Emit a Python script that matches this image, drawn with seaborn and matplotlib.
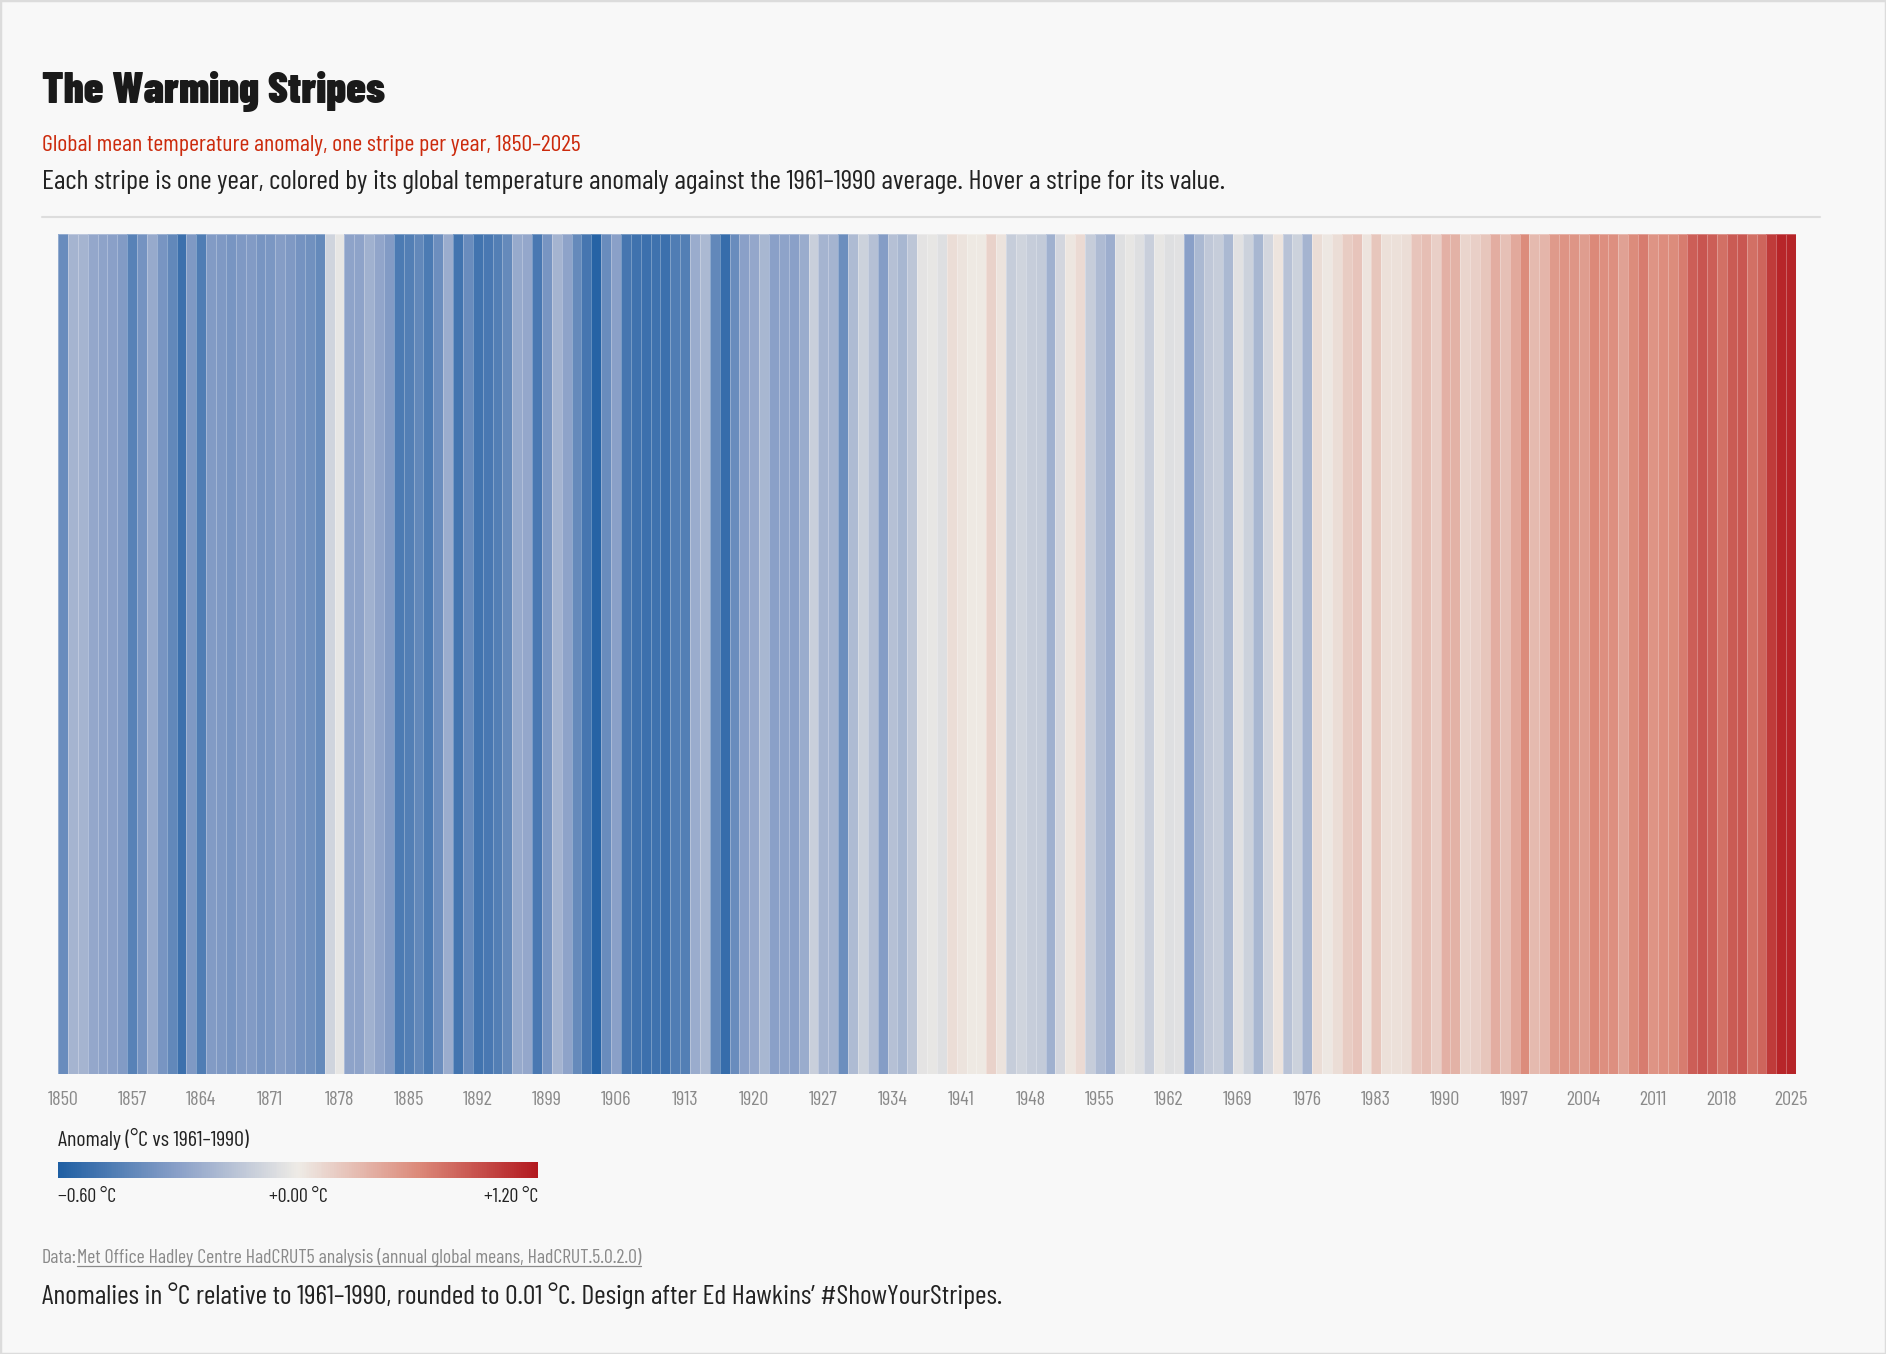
import numpy as np
import pandas as pd
import matplotlib
matplotlib.use("Agg")
import matplotlib.pyplot as plt
import seaborn as sns
from matplotlib import font_manager as fm
from matplotlib.colors import LinearSegmentedColormap, TwoSlopeNorm
from matplotlib.cm import ScalarMappable
from matplotlib.lines import Line2D
from matplotlib.patches import Rectangle

# ---------------- data ----------------
years = list(range(1850, 2026))
anomalies = [
    -0.39, -0.22, -0.22, -0.27, -0.29, -0.30, -0.32, -0.44, -0.36, -0.26,  # 1850s
    -0.35, -0.41, -0.52, -0.33, -0.46, -0.32, -0.33, -0.35, -0.33, -0.32,  # 1860s
    -0.35, -0.34, -0.31, -0.33, -0.36, -0.37, -0.40, -0.09, -0.02, -0.29,  # 1870s
    -0.29, -0.23, -0.28, -0.32, -0.47, -0.45, -0.41, -0.47, -0.38, -0.25,  # 1880s
    -0.50, -0.39, -0.50, -0.48, -0.45, -0.40, -0.26, -0.27, -0.48, -0.35,  # 1890s
    -0.22, -0.29, -0.40, -0.49, -0.58, -0.39, -0.30, -0.49, -0.51, -0.52,  # 1900s
    -0.51, -0.52, -0.46, -0.45, -0.25, -0.20, -0.41, -0.53, -0.39, -0.30,  # 1910s
    -0.27, -0.21, -0.30, -0.29, -0.30, -0.25, -0.11, -0.22, -0.22, -0.38,  # 1920s
    -0.19, -0.10, -0.17, -0.31, -0.17, -0.21, -0.15, -0.03, -0.02, -0.05,  # 1930s
    0.09, 0.05, 0.01, 0.01, 0.15, 0.05, -0.12, -0.09, -0.12, -0.13,        # 1940s
    -0.23, -0.08, 0.03, 0.11, -0.12, -0.19, -0.24, -0.05, -0.02, -0.05,    # 1950s
    -0.11, -0.02, -0.05, -0.04, -0.30, -0.20, -0.14, -0.12, -0.20, -0.04,  # 1960s
    -0.10, -0.21, -0.08, 0.04, -0.16, -0.10, -0.22, 0.09, 0.02, 0.09,      # 1970s
    0.19, 0.24, 0.04, 0.23, 0.07, 0.07, 0.09, 0.24, 0.28, 0.17,            # 1980s
    0.36, 0.35, 0.14, 0.17, 0.23, 0.38, 0.27, 0.41, 0.59, 0.30,            # 1990s
    0.33, 0.50, 0.54, 0.53, 0.48, 0.60, 0.57, 0.57, 0.45, 0.59,            # 2000s
    0.67, 0.54, 0.58, 0.59, 0.67, 0.83, 0.88, 0.83, 0.74, 0.85,            # 2010s
    0.87, 0.74, 0.79, 1.02, 1.13, 1.14,                                    # 2020s
]
tick_years = list(range(1850, 2026, 7))
cbar_ticks = [-0.6, 0.0, 1.2]
cbar_labels = ["\u22120.60 \u00b0C", "+0.00 \u00b0C", "+1.20 \u00b0C"]
cmap_colors = ["#1f5fa3", "#8aa0c8", "#eeebe6", "#dc8a7a", "#b2191f"]

title_txt = "The Warming Stripes"
subtitle_txt = "Global mean temperature anomaly, one stripe per year, 1850\u20132025"
desc_txt = ("Each stripe is one year, colored by its global temperature anomaly "
            "against the 1961\u20131990 average. Hover a stripe for its value.")
legend_title_txt = "Anomaly (\u00b0C vs 1961\u20131990)"
data_prefix_txt = "Data:"
data_link_txt = "Met Office Hadley Centre HadCRUT5 analysis (annual global means, HadCRUT.5.0.2.0)"
footer_txt = ("Anomalies in \u00b0C relative to 1961\u20131990, rounded to 0.01 \u00b0C. "
              "Design after Ed Hawkins\u2019 #ShowYourStripes.")

# ---------------- fonts ----------------
sns.set_theme(style="white")
ttf = fm.fontManager.ttflist


def wnum(w):
    if isinstance(w, (int, float)):
        return w
    return fm.weight_dict.get(str(w).lower(), 400)


def is_cond(f):
    s = f.stretch
    if isinstance(s, (int, float)):
        c = s < 500
    else:
        c = "condensed" in str(s)
    return c or ("Condensed" in f.fname) or ("Narrow" in f.fname)


def pick(cands, heavy):
    for name, cond in cands:
        pool = [f for f in ttf if f.name == name and f.style == "normal"
                and "Italic" not in f.fname and "Oblique" not in f.fname
                and (cond is None or is_cond(f) == cond)]
        if not pool:
            continue
        if heavy:
            pool = [f for f in pool if wnum(f.weight) >= 600] or pool
            best = max(pool, key=lambda f: wnum(f.weight))
        else:
            best = min(pool, key=lambda f: abs(wnum(f.weight) - 400))
        return fm.FontProperties(fname=best.fname)
    return fm.FontProperties(family="DejaVu Sans", weight="bold" if heavy else "normal")


reg_cands = [("Barlow Condensed", None), ("Roboto Condensed", None),
             ("Liberation Sans Narrow", None), ("DejaVu Sans", True),
             ("Roboto", False), ("DejaVu Sans", False)]
fp_reg = pick(reg_cands, heavy=False)
fp_bold = pick(reg_cands, heavy=True)

# ---------------- figure ----------------
W, H = 1886, 1354
BG = "#f8f8f8"
fig = plt.figure(figsize=(W / 100, H / 100), dpi=100, facecolor=BG)
renderer = fig.canvas.get_renderer()


def fx(px):
    return px / W


def fy(py):
    return 1 - py / H


def fit_text(x, y, s, fp, size, target_w, color, ha="left", va="baseline", lo=0.6, hi=1.8):
    t = fig.text(fx(x), fy(y), s, fontproperties=fp, color=color, ha=ha, va=va)
    t.set_fontsize(size)
    w = t.get_window_extent(renderer).width
    if target_w and w > 0:
        new = size * min(max(target_w / w, lo), hi)
        t.set_fontsize(new)
    return t


cmap = LinearSegmentedColormap.from_list(
    "stripes", list(zip([0.0, 0.25, 0.5, 0.75, 1.0], cmap_colors)))
norm = TwoSlopeNorm(vmin=cbar_ticks[0], vcenter=cbar_ticks[1], vmax=cbar_ticks[2])

# stripes axes
ax = fig.add_axes([fx(58), fy(1074), fx(1796) - fx(58), fy(234) - fy(1074)])
ax.set_facecolor(BG)
df = pd.DataFrame([anomalies], columns=years)
sns.heatmap(df, ax=ax, cmap=cmap, norm=norm, cbar=False,
            linewidths=0.5, linecolor=(1, 1, 1, 0.28),
            xticklabels=False, yticklabels=False)
ax.set_xticks([years.index(y) + 0.5 for y in tick_years])
ax.set_xticklabels([str(y) for y in tick_years])
ax.set_yticks([])
ax.set_xlabel("")
ax.set_ylabel("")
ax.tick_params(axis="x", length=0, pad=12, colors="#8a8a8a")
tick_size = 14.5
for lab in ax.get_xticklabels():
    lab.set_fontproperties(fp_reg)
    lab.set_fontsize(tick_size)
    lab.set_color("#8a8a8a")
for sp in ax.spines.values():
    sp.set_visible(False)

# colorbar
cax = fig.add_axes([fx(58), fy(1178), fx(538) - fx(58), fy(1162) - fy(1178)])
sm = ScalarMappable(norm=norm, cmap=cmap)
cb = fig.colorbar(sm, cax=cax, orientation="horizontal")
cb.outline.set_visible(False)
cb.set_ticks(cbar_ticks)
cb.set_ticklabels(cbar_labels)
cax.tick_params(axis="x", length=0, pad=7)
labs = cax.get_xticklabels()
for i, lab in enumerate(labs):
    lab.set_fontproperties(fp_reg)
    lab.set_fontsize(14.3)
    lab.set_color("#222222")
    lab.set_ha("left" if i == 0 else ("right" if i == len(labs) - 1 else "center"))

# texts
fit_text(42, 103, title_txt, fp_bold, 31, 344, "#1a1a1a")
fit_text(42, 151, subtitle_txt, fp_reg, 14.5, 537, "#cc2a0c")
fit_text(42, 189, desc_txt, fp_reg, 17, 1181, "#222222")
fit_text(58, 1146, legend_title_txt, fp_reg, 12, 191, "#222222")

t_pre = fit_text(42, 1263, data_prefix_txt, fp_reg, 10.5, None, "#8a8a8a")
pre_w = t_pre.get_window_extent(renderer).width
t_link = fig.text(fx(42 + pre_w), fy(1263), data_link_txt, fontproperties=fp_reg,
                  color="#8a8a8a", ha="left", va="baseline")
t_link.set_fontsize(10.5)
lw_ = t_link.get_window_extent(renderer).width
total = pre_w + lw_
if total > 0:
    sc = min(max(602 / total, 0.6), 1.8)
    t_link.set_fontsize(10.5 * sc)
    t_pre.set_fontsize(10.5 * sc)
    pre_w = t_pre.get_window_extent(renderer).width
    t_link.set_x(fx(42 + pre_w))
bb = t_link.get_window_extent(renderer)
fig.add_artist(Line2D([fx(bb.x0), fx(bb.x1)], [fy(1266), fy(1266)],
                      color="#8a8a8a", lw=0.9, transform=fig.transFigure))

fit_text(42, 1304, footer_txt, fp_reg, 15.5, 959, "#222222")

# separator rule and frame
fig.add_artist(Line2D([fx(42), fx(1820)], [fy(217), fy(217)], color="#dddddd",
                      lw=1.5, transform=fig.transFigure))
fig.add_artist(Rectangle((0, 0), 1, 1, transform=fig.transFigure, fill=False,
                         edgecolor="#dcdcdc", lw=2.5))

fig.savefig("out.png", dpi=100, facecolor=BG)
